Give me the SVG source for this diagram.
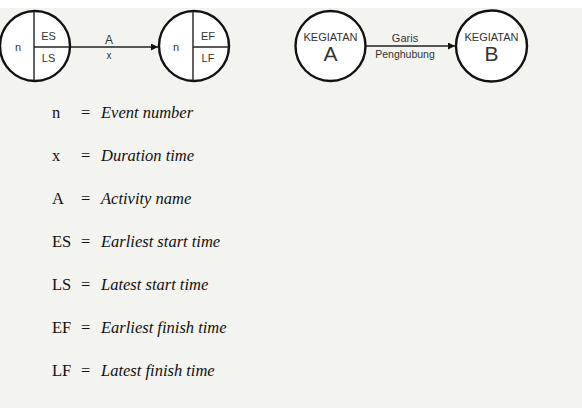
<svg xmlns="http://www.w3.org/2000/svg" width="582" height="408" viewBox="0 0 582 408">
<defs>
<style>
.c{fill:#fff;stroke:#111;stroke-width:2.4}
.d{stroke:#222;stroke-width:1.4;fill:none}
.s{font-family:"Liberation Sans",Arial,sans-serif;fill:#333;text-anchor:middle}
.l{font-family:"Liberation Serif","Times New Roman",serif;font-size:16.5px;fill:#111}
.i{font-style:italic}
</style>
<marker id="ah" viewBox="0 0 10 10" refX="10" refY="5" markerWidth="10" markerHeight="7" markerUnits="userSpaceOnUse" orient="auto">
<path d="M0,0 L10,5 L0,10 z" fill="#111"/>
</marker>
</defs>
<rect x="0" y="0" width="582" height="408" fill="#fff"/>
<rect x="0" y="8" width="582" height="400" fill="#f3f3ef"/>
<g id="connectors">
<line class="d" x1="71" y1="47" x2="158" y2="47" marker-end="url(#ah)"/>
<text class="s" x="109" y="44" font-size="12">A</text>
<text class="s" x="109" y="59" font-size="10">x</text>
<line class="d" x1="366" y1="46" x2="455" y2="46" marker-end="url(#ah)"/>
<text class="s" x="405" y="42" font-size="11">Garis</text>
<text class="s" x="405" y="58" font-size="10.5">Penghubung</text>
</g>
<g id="node1">
<circle class="c" cx="35" cy="46" r="35"/>
<line class="d" x1="34" y1="11" x2="34" y2="81"/>
<line class="d" x1="34" y1="47" x2="70" y2="47"/>
<text class="s" x="18" y="51" font-size="11">n</text>
<text class="s" x="48.5" y="40" font-size="11">ES</text>
<text class="s" x="48.5" y="62" font-size="11">LS</text>
</g>
<g id="node2">
<circle class="c" cx="194" cy="46" r="35"/>
<line class="d" x1="193" y1="11" x2="193" y2="81"/>
<line class="d" x1="193" y1="47" x2="229" y2="47"/>
<text class="s" x="176" y="51" font-size="11">n</text>
<text class="s" x="208" y="40" font-size="11">EF</text>
<text class="s" x="208" y="62" font-size="11">LF</text>
</g>
<g id="nodeA">
<circle class="c" cx="330.5" cy="46" r="35"/>
<text class="s" x="330.5" y="41" font-size="11">KEGIATAN</text>
<text class="s" x="330.5" y="61" font-size="21">A</text>
</g>
<g id="nodeB">
<circle class="c" cx="491.5" cy="46" r="35.5"/>
<text class="s" x="491.5" y="41" font-size="11">KEGIATAN</text>
<text class="s" x="491.5" y="61" font-size="21">B</text>
</g>
<g id="legend">
<text class="l" x="52" y="118">n</text><text class="l" x="81" y="118">=</text><text class="l i" x="101" y="118">Event number</text>
<text class="l" x="52" y="161">x</text><text class="l" x="81" y="161">=</text><text class="l i" x="101" y="161">Duration time</text>
<text class="l" x="52" y="204">A</text><text class="l" x="81" y="204">=</text><text class="l i" x="101" y="204">Activity name</text>
<text class="l" x="52" y="247">ES</text><text class="l" x="81" y="247">=</text><text class="l i" x="101" y="247">Earliest start time</text>
<text class="l" x="52" y="290">LS</text><text class="l" x="81" y="290">=</text><text class="l i" x="101" y="290">Latest start time</text>
<text class="l" x="52" y="333">EF</text><text class="l" x="81" y="333">=</text><text class="l i" x="101" y="333">Earliest finish time</text>
<text class="l" x="52" y="376">LF</text><text class="l" x="81" y="376">=</text><text class="l i" x="101" y="376">Latest finish time</text>
</g>
</svg>
